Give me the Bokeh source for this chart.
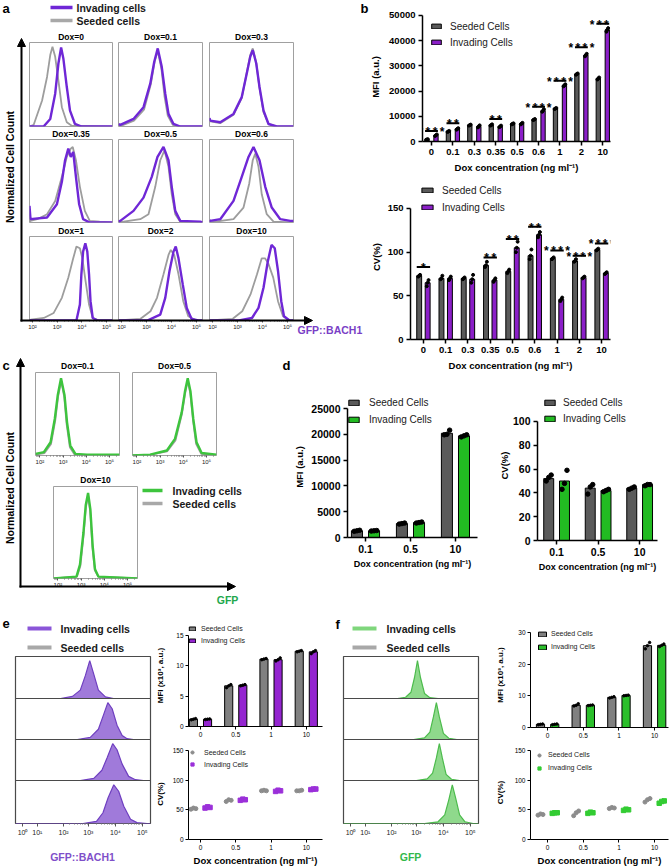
import math
from bokeh.plotting import figure
from bokeh.models import Range1d, FixedTicker, GridBox, Arrow, NormalHead
from bokeh.core.properties import value
from bokeh.embed import file_html
from bokeh.resources import INLINE

# ---------------- data ----------------
b_cats = ["0", "0.1", "0.3", "0.35", "0.5", "0.6", "1", "2", "10"]
b_mfi_seeded = [800, 4000, 6500, 6500, 7000, 8700, 13100, 26800, 25000]
b_mfi_invading = [2500, 5000, 6000, 6000, 7100, 12300, 22300, 34300, 44300]
b_mfi_seeded_reps = [[700, 800, 900], [3800, 4000, 4200], [6300, 6500, 6700], [6300, 6500, 6800],
                     [6800, 7000, 7200], [8500, 8700, 8900], [12900, 13100, 13300], [26500, 26800, 27000],
                     [24600, 25000, 25400]]
b_mfi_invading_reps = [[2200, 2500, 2800], [4700, 5000, 5300], [5600, 6000, 6400], [5700, 6000, 6300],
                       [6800, 7100, 7400], [11800, 12300, 12800], [21900, 22300, 22700], [33800, 34300, 34800],
                       [43600, 44300, 45000]]
b_mfi_sig = ["****", "**", "", "**", "", "****", "****", "****", "****"]
b_mfi_sig_y = [4200, 7200, 0, 8900, 0, 13800, 24100, 37400, 46700]

b_cv_seeded = [73, 70, 70, 85, 78, 96, 93, 90, 103]
b_cv_invading = [65, 70, 69, 68, 105, 120, 46, 71, 76]
b_cv_seeded_reps = [[72, 73, 74], [69, 70, 73], [69, 70, 71], [83, 85, 89], [76, 78, 80], [92, 96, 103],
                    [92, 93, 94], [89, 90, 92], [102, 103, 104]]
b_cv_invading_reps = [[61, 65, 68], [68, 70, 72], [65, 69, 74], [66, 68, 70], [100, 105, 112], [117, 120, 123],
                      [44, 46, 48], [70, 71, 72], [75, 76, 77]]
b_cv_sig = ["*", "", "", "**", "**", "**", "****", "****", "****"]
b_cv_sig_y = [83, 0, 0, 94, 115, 129, 102, 96, 110]

d_cats = ["0.1", "0.5", "10"]
d_mfi_seeded = [1300, 2700, 20200]
d_mfi_invading = [1300, 2900, 19700]
d_mfi_seeded_reps = [[1200, 1300, 1400], [2600, 2700, 2800], [19900, 20000, 20800]]
d_mfi_invading_reps = [[1250, 1300, 1350], [2800, 2900, 3000], [19500, 19700, 19900]]
d_cv_seeded = [52, 44, 44]
d_cv_invading = [50, 42, 47]
d_cv_seeded_reps = [[50, 53, 55], [39, 45, 47], [43, 44, 45]]
d_cv_invading_reps = [[43, 48, 59], [41, 42, 43], [46, 47, 47]]

ef_cats = ["0", "0.5", "1", "10"]
e_mfi_seeded = [1.2, 6.7, 11.1, 12.4]
e_mfi_invading = [1.2, 6.8, 11.0, 12.3]
e_mfi_seeded_reps = [[1.1, 1.2, 1.3], [6.4, 6.7, 6.9], [11.0, 11.1, 11.2], [12.3, 12.4, 12.5]]
e_mfi_invading_reps = [[1.15, 1.2, 1.25], [6.7, 6.8, 6.9], [10.8, 11.0, 11.3], [12.0, 12.3, 12.5]]
e_cv_seeded_reps = [[51, 53, 52], [64, 67, 66], [82, 83, 82], [82, 82, 83]]
e_cv_invading_reps = [[53, 55, 54], [66, 68, 67], [81, 83, 82], [84, 85, 85]]

f_mfi_seeded = [1.0, 7.0, 9.5, 25.8]
f_mfi_invading = [1.0, 7.0, 10.1, 25.9]
f_mfi_seeded_reps = [[0.9, 1.0, 1.1], [6.8, 7.0, 7.5], [9.3, 9.5, 9.7], [24.8, 25.8, 26.8]]
f_mfi_invading_reps = [[0.9, 1.0, 1.1], [6.9, 7.0, 7.1], [10.0, 10.1, 10.2], [25.5, 25.9, 26.3]]
f_cv_seeded_reps = [[41, 43, 42], [40, 45, 48], [52, 54, 53], [63, 67, 69]]
f_cv_invading_reps = [[44, 45, 45], [44, 46, 45], [49, 51, 50], [61, 64, 65]]

# panel a histograms (x = log10 fluorescence, y = normalized count)
a_titles = ["Dox=0", "Dox=0.1", "Dox=0.3", "Dox=0.35", "Dox=0.5", "Dox=0.6", "Dox=1", "Dox=2", "Dox=10"]
a_seeded_x = [
    [1.88, 2.05, 2.39, 2.59, 2.72, 2.81, 2.92, 3.05, 3.19, 3.39, 3.59, 5.24],
    [1.88, 2.0, 2.5, 2.9, 3.17, 3.33, 3.45, 3.6, 3.72, 3.85, 4.05, 4.3, 5.24],
    [1.88, 1.91, 2.31, 2.84, 3.17, 3.37, 3.51, 3.61, 3.75, 3.88, 4.04, 4.24, 4.57, 5.24],
    [1.88, 1.92, 2.19, 2.59, 2.92, 3.19, 3.39, 3.55, 3.63, 3.76, 3.92, 4.12, 4.32, 4.72, 5.24],
    [1.88, 2.75, 3.08, 3.35, 3.55, 3.72, 3.88, 4.01, 4.15, 4.35, 5.24],
    [1.88, 2.84, 3.24, 3.47, 3.61, 3.71, 3.84, 3.97, 4.17, 4.44, 5.24],
    [1.88, 1.93, 2.46, 2.86, 3.19, 3.45, 3.65, 3.78, 3.92, 4.02, 4.15, 4.29, 4.44, 4.71, 5.24],
    [1.88, 2.76, 3.16, 3.42, 3.68, 3.88, 3.97, 4.11, 4.28, 4.47, 4.67, 5.0, 5.24],
    [1.88, 2.81, 3.19, 3.52, 3.78, 3.97, 4.10, 4.23, 4.43, 4.62, 4.82, 5.08, 5.24],
]
a_seeded_y = [
    [0.0, 0.02, 0.31, 0.59, 0.85, 0.95, 0.83, 0.55, 0.23, 0.05, 0.01, 0.0],
    [0.02, 0.01, 0.07, 0.2, 0.5, 0.78, 0.9, 0.68, 0.36, 0.13, 0.02, 0.0, 0.0],
    [0.08, 0.06, 0.04, 0.14, 0.34, 0.64, 0.85, 0.93, 0.76, 0.46, 0.17, 0.03, 0.0, 0.0],
    [0.0, 0.02, 0.04, 0.10, 0.26, 0.55, 0.79, 0.89, 0.91, 0.75, 0.43, 0.14, 0.02, 0.01, 0.0],
    [0.0, 0.04, 0.10, 0.43, 0.75, 0.87, 0.67, 0.34, 0.10, 0.01, 0.0],
    [0.0, 0.04, 0.18, 0.47, 0.75, 0.83, 0.67, 0.34, 0.10, 0.01, 0.0],
    [0.0, 0.01, 0.03, 0.09, 0.27, 0.51, 0.74, 0.88, 0.86, 0.74, 0.47, 0.19, 0.03, 0.0, 0.0],
    [0.0, 0.02, 0.11, 0.27, 0.55, 0.78, 0.84, 0.78, 0.55, 0.23, 0.05, 0.0, 0.0],
    [0.0, 0.02, 0.11, 0.31, 0.55, 0.74, 0.74, 0.68, 0.51, 0.23, 0.05, 0.0, 0.0],
]
a_invading_x = [
    [1.88, 2.45, 2.72, 2.92, 3.05, 3.16, 3.25, 3.39, 3.52, 3.72, 3.99, 5.24],
    [1.88, 1.95, 2.48, 2.88, 3.15, 3.31, 3.45, 3.61, 3.75, 3.88, 4.08, 4.35, 5.24],
    [1.88, 1.91, 2.31, 2.84, 3.17, 3.37, 3.51, 3.61, 3.75, 3.88, 4.04, 4.24, 4.57, 5.24],
    [1.88, 1.92, 2.59, 2.99, 3.19, 3.32, 3.45, 3.55, 3.65, 3.76, 3.89, 4.05, 4.32, 5.24],
    [1.88, 1.95, 2.48, 2.88, 3.21, 3.44, 3.68, 3.88, 4.01, 4.15, 4.35, 5.15, 5.24],
    [1.88, 1.91, 2.31, 2.84, 3.17, 3.44, 3.64, 3.88, 4.11, 4.37, 4.71, 5.11, 5.24],
    [1.88, 3.78, 3.92, 3.98, 4.05, 4.14, 4.22, 4.29, 4.35, 4.44, 4.64, 5.24],
    [1.88, 3.03, 3.55, 3.75, 3.92, 4.08, 4.17, 4.28, 4.45, 4.61, 4.8, 5.07, 5.24],
    [1.88, 3.06, 3.58, 3.84, 4.04, 4.21, 4.36, 4.49, 4.62, 4.75, 4.86, 5.08, 5.24],
]
a_invading_y = [
    [0.0, 0.0, 0.09, 0.39, 0.75, 0.94, 0.81, 0.47, 0.19, 0.03, 0.0, 0.0],
    [0.03, 0.02, 0.09, 0.23, 0.51, 0.77, 0.93, 0.71, 0.39, 0.15, 0.03, 0.0, 0.0],
    [0.1, 0.07, 0.05, 0.15, 0.35, 0.63, 0.83, 0.91, 0.75, 0.47, 0.19, 0.03, 0.0, 0.0],
    [0.2, 0.04, 0.06, 0.22, 0.49, 0.75, 0.89, 0.79, 0.85, 0.55, 0.22, 0.04, 0.0, 0.0],
    [0.01, 0.02, 0.14, 0.30, 0.55, 0.79, 0.91, 0.75, 0.43, 0.14, 0.02, 0.01, 0.0],
    [0.03, 0.02, 0.04, 0.26, 0.55, 0.79, 0.91, 0.75, 0.43, 0.18, 0.04, 0.02, 0.02],
    [0.0, 0.0, 0.19, 0.55, 0.82, 0.92, 0.82, 0.55, 0.23, 0.03, 0.0, 0.0],
    [0.0, 0.0, 0.07, 0.27, 0.59, 0.82, 0.88, 0.74, 0.43, 0.15, 0.02, 0.0, 0.0],
    [0.0, 0.0, 0.03, 0.15, 0.39, 0.70, 0.90, 0.86, 0.59, 0.23, 0.05, 0.0, 0.0],
]

# panel c histograms
c_titles = ["Dox=0.1", "Dox=0.5", "Dox=10"]
c_seeded_x = [
    [1.81, 2.2, 2.48, 2.66, 2.79, 2.92, 3.05, 3.15, 3.29, 3.5, 5.43],
    [1.79, 2.6, 3.3, 3.66, 3.94, 4.08, 4.19, 4.3, 4.42, 4.55, 4.77, 5.43],
    [1.81, 2.82, 2.97, 3.11, 3.21, 3.3, 3.39, 3.49, 3.59, 3.74, 5.43],
]
c_seeded_y = [
    [0.01, 0.03, 0.14, 0.42, 0.72, 0.9, 0.7, 0.38, 0.1, 0.01, 0.0],
    [0.0, 0.01, 0.05, 0.18, 0.5, 0.75, 0.9, 0.75, 0.42, 0.14, 0.02, 0.0],
    [0.0, 0.02, 0.14, 0.48, 0.78, 0.9, 0.73, 0.33, 0.09, 0.02, 0.0],
]
c_invading_x = [
    [1.81, 2.17, 2.46, 2.64, 2.77, 2.91, 3.06, 3.17, 3.31, 3.53, 4.03, 5.43],
    [1.79, 2.57, 3.29, 3.64, 3.93, 4.07, 4.19, 4.31, 4.43, 4.57, 4.79, 5.43],
    [1.81, 2.8, 2.95, 3.1, 3.2, 3.3, 3.4, 3.5, 3.6, 3.75, 5.43],
]
c_invading_y = [
    [0.02, 0.04, 0.16, 0.44, 0.73, 0.93, 0.73, 0.40, 0.12, 0.02, 0.01, 0.01],
    [0.0, 0.01, 0.06, 0.20, 0.52, 0.77, 0.93, 0.77, 0.44, 0.16, 0.03, 0.01],
    [0.0, 0.02, 0.15, 0.5, 0.8, 0.93, 0.75, 0.35, 0.1, 0.02, 0.0],
]

# panels e / f stacked histograms (invading cells, Dox = 0, 0.5, 1, 10)
e_x = [
    [0.3, 1.97, 2.41, 2.7, 2.89, 3.05, 3.19, 3.37, 3.63, 3.93, 5.3],
    [0.3, 2.59, 3.07, 3.37, 3.56, 3.72, 3.88, 4.06, 4.25, 4.43, 4.67, 5.3],
    [0.3, 2.7, 3.2, 3.5, 3.69, 3.9, 4.06, 4.25, 4.49, 4.74, 5.04, 5.3],
    [0.3, 2.8, 3.3, 3.54, 3.73, 3.94, 4.12, 4.31, 4.56, 4.8, 5.17, 5.3],
]
e_y = [
    [0, 0, 0.05, 0.2, 0.55, 0.9, 0.6, 0.2, 0.04, 0, 0],
    [0, 0, 0.05, 0.25, 0.6, 0.9, 0.75, 0.35, 0.1, 0.02, 0, 0],
    [0, 0, 0.05, 0.25, 0.55, 0.9, 0.75, 0.4, 0.1, 0.02, 0, 0],
    [0, 0, 0.05, 0.25, 0.6, 0.9, 0.75, 0.4, 0.1, 0.02, 0, 0],
]
f_x = [
    [0.3, 2.3, 2.6, 2.8, 2.93, 3.04, 3.15, 3.3, 3.5, 3.8, 5.3],
    [0.3, 2.9, 3.3, 3.5, 3.63, 3.74, 3.85, 4.0, 4.2, 4.5, 5.3],
    [0.3, 3.0, 3.4, 3.6, 3.74, 3.85, 3.96, 4.1, 4.3, 4.6, 5.3],
    [0.3, 3.3, 3.8, 4.05, 4.2, 4.33, 4.45, 4.6, 4.8, 5.1, 5.3],
]
f_y = [
    [0, 0, 0.03, 0.15, 0.5, 0.9, 0.5, 0.12, 0.02, 0, 0],
    [0, 0, 0.04, 0.18, 0.55, 0.9, 0.55, 0.15, 0.03, 0, 0],
    [0, 0, 0.04, 0.18, 0.55, 0.9, 0.55, 0.15, 0.03, 0, 0],
    [0, 0, 0.04, 0.2, 0.55, 0.9, 0.6, 0.2, 0.04, 0, 0],
]

# ---------------- style ----------------
FONT = "Liberation Sans"
GREY_BAR = "#5a5a5a"
PURPLE_BAR = "#8b1fc8"
GREEN_BAR = "#22bb22"
EF_GREY_BAR = "#808080"
E_PURPLE_BAR = "#9425d0"
F_GREEN_BAR = "#2bbf2b"
A_PURPLE = "#6f27d6"
A_GREY = "#9d9d9d"
C_GREEN = "#3dc43d"
E_FILL, E_LINE = "#a07ada", "#6f3fc0"
F_FILL, F_LINE = "#8fd98c", "#4cbb4c"

W, H = 671, 868
figs = []


def mkfig(frame, x_range, y_range, xaxis=True, yaxis=True):
    """Every figure covers the whole page; its frame is placed by its borders."""
    fx0, fy0, fx1, fy1 = frame
    p = figure(width=W, height=H, x_range=x_range, y_range=y_range, title=None,
               x_axis_type="linear" if xaxis else None, y_axis_type="linear" if yaxis else None,
               output_backend="svg", toolbar_location=None,
               min_border_left=fx0, min_border_right=W - fx1,
               min_border_top=fy0, min_border_bottom=H - fy1)
    p.frame_align = False
    p.background_fill_color = None
    p.border_fill_color = None
    p.outline_line_color = None
    p.grid.visible = False
    figs.append(p)
    return p


def style_axis(ax, tsize, tbold, lsize, lw, tick_out, lstand, tstand):
    ax.axis_line_width = lw
    ax.axis_line_color = "black"
    ax.major_tick_line_width = lw
    ax.major_tick_line_color = "black"
    ax.major_tick_out = tick_out
    ax.major_tick_in = 0
    ax.minor_tick_line_color = None
    ax.major_label_text_font = FONT
    ax.major_label_text_font_size = f"{tsize}px"
    ax.major_label_text_font_style = "bold" if tbold else "normal"
    ax.major_label_text_color = "black"
    ax.major_label_standoff = tstand
    ax.axis_label_text_font = FONT
    ax.axis_label_text_font_size = f"{lsize}px"
    ax.axis_label_text_font_style = "bold"
    ax.axis_label_text_color = "black"
    ax.axis_label_standoff = lstand


def style_legend(p, m, pd, sp, gw, gh, lh, ls, fsize):
    lg = p.legend[0]
    lg.location = "top_left"
    lg.margin = m
    lg.padding = pd
    lg.spacing = sp
    lg.glyph_width = gw
    lg.glyph_height = gh
    lg.label_height = lh
    lg.label_standoff = ls
    lg.label_text_font = FONT
    lg.label_text_font_size = f"{fsize}px"
    lg.label_text_color = "#1a1a1a"
    lg.label_text_baseline = "middle"
    lg.border_line_color = None
    lg.background_fill_alpha = 0


def cat_axes(p, cats, yticks, ylabel, xlabel, cfg):
    p.xaxis.ticker = FixedTicker(ticks=list(range(len(cats))))
    p.xaxis.major_label_overrides = {i: c for i, c in enumerate(cats)}
    p.yaxis.ticker = FixedTicker(ticks=yticks)
    p.yaxis.bounds = (0, yticks[-1])
    p.yaxis.axis_label = ylabel
    if xlabel:
        p.xaxis.axis_label = xlabel
    style_axis(p.xaxis[0], cfg["tsize"], cfg["tbold"], cfg["xl"], cfg["lw"], cfg["tout"], cfg["xls"], cfg["tst"])
    style_axis(p.yaxis[0], cfg["tsize"], cfg["tbold"], cfg["yl"], cfg["lw"], cfg["tout"], cfg["yls"], cfg["tst"])


def flat_pos(reps, base, jit):
    xs, ys = [], []
    for i, r in enumerate(reps):
        for j, v in enumerate(r):
            xs.append(i + base + jit[j])
            ys.append(v)
    return xs, ys


def bar_chart(frame, xr, ymax, yticks, cats, seeded, invading, s_reps, i_reps,
              s_color, i_color, off, bw, ylabel, xlabel, cfg, leg, dot=3.0, jit=(-0.05, 0, 0.05)):
    p = mkfig(frame, Range1d(*xr), Range1d(0, ymax))
    n = len(cats)
    p.vbar(x=[i - off for i in range(n)], top=seeded, width=bw, fill_color=s_color,
           line_color="black", line_width=1, legend_label="Seeded Cells")
    p.vbar(x=[i + off for i in range(n)], top=invading, width=bw, fill_color=i_color,
           line_color="black", line_width=1, legend_label="Invading Cells")
    for reps, base in ((s_reps, -off), (i_reps, off)):
        xs, ys = flat_pos(reps, base, jit)
        p.scatter(xs, ys, size=dot, color="black")
    cat_axes(p, cats, yticks, ylabel, xlabel, cfg)
    style_legend(p, *leg)
    return p


def add_sig(p, sig, sig_y, half=0.3):
    x0, x1, ys, tx, tt = [], [], [], [], []
    for i, (s, y) in enumerate(zip(sig, sig_y)):
        if s:
            x0.append(i - half); x1.append(i + half); ys.append(y); tx.append(i)
            tt.append("\u2009".join(s))
    p.segment(x0=x0, y0=ys, x1=x1, y1=ys, line_color="black", line_width=2)
    p.text(x=tx, y=ys, text=tt, text_align="center", text_baseline="alphabetic", y_offset=1,
           text_font=value(FONT), text_font_size="12px", text_font_style="bold",
           text_color="black")


def cv_scatter(frame, xr, ymax, cats, s_reps, i_reps, i_color, off, cfg, leg):
    p = mkfig(frame, Range1d(*xr), Range1d(0, ymax))
    jit = (-0.07, 0, 0.07)
    xs, ys = flat_pos(s_reps, -off, jit)
    p.scatter(xs, ys, marker="circle", size=4, color="#8c8c8c", legend_label="Seeded Cells")
    xs, ys = flat_pos(i_reps, off, jit)
    p.scatter(xs, ys, marker="square", size=4.5, color=i_color, legend_label="Invading Cells")
    cat_axes(p, cats, [0, 50, 100, 150], "CV(%)", "Dox concentration (ng ml\u207b\u00b9)", cfg)
    style_legend(p, *leg)
    return p


SUP = ["\u2070", "\u00b9", "\u00b2", "\u00b3", "\u2074", "\u2075"]


def hist_fig(frame, xr, axis=False, ticks=None, tick_labels=None, minor=None, outline="#a0a0a0", olw=1.0,
             tsize=6):
    p = mkfig(frame, Range1d(*xr), Range1d(0, 1.0), xaxis=axis, yaxis=False)
    p.outline_line_color = outline
    p.outline_line_width = olw
    if axis:
        ax = p.xaxis[0]
        ax.ticker = FixedTicker(ticks=ticks, minor_ticks=minor or [])
        ax.major_label_overrides = {t: l for t, l in zip(ticks, tick_labels)}
        ax.axis_line_color = None
        ax.major_tick_out = 2
        ax.major_tick_in = 0
        ax.minor_tick_out = 1
        ax.minor_tick_in = 0
        ax.major_tick_line_color = "#555555"
        ax.minor_tick_line_color = "#777777"
        ax.major_label_standoff = 1
        ax.major_label_text_font = FONT
        ax.major_label_text_font_size = f"{tsize}px"
        ax.major_label_text_color = "#222222"
    return p


# ---------------- panel b ----------------
cfg_b = dict(tsize=9.5, tbold=True, xl=9.5, yl=9.5, lw=1.5, tout=4, tst=3, xls=4, yls=5)
pb1 = bar_chart((422, 12, 610, 141), (-0.42, 8.36), 51190,
                [0, 10000, 20000, 30000, 40000, 50000], b_cats, b_mfi_seeded, b_mfi_invading,
                b_mfi_seeded_reps, b_mfi_invading_reps, GREY_BAR, PURPLE_BAR, 0.21, 0.2,
                "MFI (a.u.)", "Dox concentration (ng ml\u207b\u00b9)", cfg_b,
                (8, 4, 4, 12, 6, 12, 8, 10), dot=3.0, jit=(-0.04, 0, 0.04))
add_sig(pb1, b_mfi_sig, b_mfi_sig_y)

cfg_b2 = dict(cfg_b, yls=3)
pb2 = bar_chart((410, 174, 610, 339), (-0.58, 8.4), 188.9,
                [0, 50, 100, 150], b_cats, b_cv_seeded, b_cv_invading,
                b_cv_seeded_reps, b_cv_invading_reps, GREY_BAR, PURPLE_BAR, 0.19, 0.22,
                "CV(%)", "Dox concentration (ng ml\u207b\u00b9)", cfg_b2,
                (10, 4, 5, 14, 6, 12, 8, 10), dot=3.0, jit=(-0.04, 0, 0.04))
add_sig(pb2, b_cv_sig, b_cv_sig_y)

# ---------------- panel d ----------------
cfg_d = dict(tsize=10.5, tbold=True, xl=9, yl=9.5, lw=1.5, tout=4, tst=3, xls=3, yls=3)
pd1 = bar_chart((347, 396, 477, 537), (-0.4, 2.49), 27326,
                [0, 5000, 10000, 15000, 20000, 25000], d_cats, d_mfi_seeded, d_mfi_invading,
                d_mfi_seeded_reps, d_mfi_invading_reps, GREY_BAR, GREEN_BAR, 0.19, 0.245,
                "MFI (a.u.)", "Dox concentration (ng ml\u207b\u00b9)", cfg_d,
                (0, 3, 5, 13, 7, 12, 9, 10), dot=4.5, jit=(-0.06, 0, 0.06))
cfg_d2 = dict(cfg_d, yls=0)
pd2 = bar_chart((537, 390, 657, 540), (-0.46, 2.43), 126.05,
                [0, 20, 40, 60, 80, 100], d_cats, d_cv_seeded, d_cv_invading,
                d_cv_seeded_reps, d_cv_invading_reps, GREY_BAR, GREEN_BAR, 0.19, 0.24,
                "CV(%)", "Dox concentration (ng ml\u207b\u00b9)", cfg_d2,
                (6, 4, 4, 13, 7, 12, 7, 10), dot=4.5, jit=(-0.06, 0, 0.06))

# ---------------- panels e / f (bars + CV) ----------------
cfg_e = dict(tsize=6.5, tbold=False, xl=9.5, yl=8, lw=1.0, tout=3, tst=2, xls=2, yls=8)
pe1 = bar_chart((188, 624, 322, 726), (-0.34, 3.46), 16.8,
                [0, 5, 10, 15], ef_cats, e_mfi_seeded, e_mfi_invading,
                e_mfi_seeded_reps, e_mfi_invading_reps, EF_GREY_BAR, E_PURPLE_BAR, 0.2, 0.23,
                "MFI (x10\u00b3, a.u.)", None, cfg_e,
                (0, 2, 4, 8, 5, 8, 5, 7), dot=2.5, jit=(-0.06, 0, 0.06))
cfg_ecv = dict(cfg_e, yls=5)
pe2 = cv_scatter((188, 748, 322, 842), (-0.34, 3.46), 153.3,
                 ef_cats, e_cv_seeded_reps, e_cv_invading_reps, "#9b30d9", 0.2, cfg_ecv,
                 (0, 3, 4, 8, 8, 8, 8, 7))

cfg_f = dict(cfg_e, yls=10)
pf1 = bar_chart((530, 622, 668, 727), (-0.48, 3.39), 33.1,
                [0, 10, 20, 30], ef_cats, f_mfi_seeded, f_mfi_invading,
                f_mfi_seeded_reps, f_mfi_invading_reps, EF_GREY_BAR, F_GREEN_BAR, 0.2, 0.23,
                "MFI (x10\u00b3, a.u.)", None, cfg_f,
                (7, 4, 4, 10, 6, 9, 4, 7), dot=2.5, jit=(-0.06, 0, 0.06))
cfg_fcv = dict(cfg_e, yls=7)
pf2 = cv_scatter((530, 745, 668, 842), (-0.48, 3.39), 158.2,
                 ef_cats, f_cv_seeded_reps, f_cv_invading_reps, "#33cc33", 0.2, cfg_fcv,
                 (5, 4, 4, 8, 8, 9, 5, 7))

# ---------------- panel a histograms ----------------
a_cols = [(29, 112), (118, 202), (209, 293)]
a_rows = [(42, 126), (139, 222), (236, 320)]
a_ticks = [2, 3, 4, 5]
a_minor = [d + math.log10(k) for d in range(1, 6) for k in range(2, 10) if 1.88 < d + math.log10(k) < 5.24]
for k in range(9):
    r, c = divmod(k, 3)
    frame = (a_cols[c][0], a_rows[r][0], a_cols[c][1], a_rows[r][1])
    p = hist_fig(frame, (1.88, 5.24), axis=(r == 2), ticks=a_ticks,
                 tick_labels=["10" + SUP[t] for t in a_ticks], minor=a_minor)
    p.line(a_seeded_x[k], a_seeded_y[k], line_color=A_GREY, line_width=1.8)
    p.line(a_invading_x[k], a_invading_y[k], line_color=A_PURPLE, line_width=2.4)

# ---------------- panel c histograms ----------------
c_frames = [(35, 372, 119, 455), (132, 372, 216, 455), (53, 486, 137, 578)]
c_minor = [d + math.log10(k) for d in range(1, 6) for k in range(2, 10) if 1.81 < d + math.log10(k) < 5.43]
for k in range(3):
    p = hist_fig(c_frames[k], (1.81, 5.43), axis=True, ticks=a_ticks,
                 tick_labels=["10" + SUP[t] for t in a_ticks], minor=c_minor)
    p.line(c_seeded_x[k], c_seeded_y[k], line_color=A_GREY, line_width=1.8)
    p.line(c_invading_x[k], c_invading_y[k], line_color=C_GREEN, line_width=2.4)

# ---------------- panels e / f stacked histograms ----------------
ef_rows = [(656, 698), (698, 739), (739, 780), (780, 823)]
ef_ticks = [0.56, 1.11, 2.08, 3, 4, 5]
ef_minor = [d + math.log10(k) for d in range(2, 5) for k in range(2, 10)]
for xs0, xs1, data_x, data_y, fill, line in ((15, 150, e_x, e_y, E_FILL, E_LINE),
                                              (343, 478, f_x, f_y, F_FILL, F_LINE)):
    for k in range(4):
        frame = (xs0, ef_rows[k][0], xs1, ef_rows[k][1])
        p = hist_fig(frame, (0.3, 5.3), axis=(k == 3), ticks=ef_ticks,
                     tick_labels=["10" + SUP[t] for t in range(6)], minor=ef_minor,
                     outline="#4a4a4a", olw=1.2, tsize=7)
        p.varea(x=data_x[k], y1=0, y2=data_y[k], fill_color=fill, fill_alpha=1.0)
        p.line(data_x[k], data_y[k], line_color=line, line_width=1.2)
        if k == 3:
            p.xaxis[0].major_tick_out = 3
            p.xaxis[0].major_label_standoff = 2

# ---------------- overlay: letters, legends, arrows, labels ----------------
bg = mkfig((0, 0, W, H), Range1d(0, W), Range1d(H, 0), xaxis=False, yaxis=False)


def txt(x, y, s, size, color="black", bold=True, align="left", angle=0.0):
    bg.text(x=[x], y=[y], text=[s], text_font=value(FONT), text_font_size=f"{size}px",
            text_font_style="bold" if bold else "normal", text_color=color,
            text_align=align, text_baseline="middle", angle=angle)


for s, x, y in (("a", 2, 8), ("b", 360, 8), ("c", 2, 365), ("d", 282, 365), ("e", 2, 623), ("f", 335, 624)):
    txt(x, y, s, 13)

# legends of histogram panels
for x0, x1, tx, y1, y2, col, lw in ((50, 72, 76, 7, 20, A_PURPLE, 3.5),
                                     (142, 162, 172, 490, 503, C_GREEN, 3.5),
                                     (27, 51, 60, 628, 647, "#8a55d8", 4),
                                     (352, 376, 386, 628, 647, "#7fd67c", 4)):
    bg.line([x0, x1], [y1, y1], line_color=col, line_width=lw)
    bg.line([x0, x1], [y2, y2], line_color="#a8a8a8", line_width=lw)
    txt(tx, y1, "Invading cells", 10.5, color="#1a1a1a")
    txt(tx, y2, "Seeded cells", 10.5, color="#1a1a1a")

# histogram titles
a_cx = [70.5, 160, 251]
a_ty = [36, 133, 230]
for k, t in enumerate(a_titles):
    r, c = divmod(k, 3)
    txt(a_cx[c], a_ty[r], t, 8.5, align="center")
for t, x, y in zip(c_titles, (77, 174, 95), (365, 365, 479)):
    txt(x, y, t, 8.5, align="center")

# axis arrows
for xs, ys, xe, ye in ((21, 321, 21, 38), (20, 320, 312, 320), (20, 587, 20, 358), (19, 586, 235, 586)):
    bg.add_layout(Arrow(end=NormalHead(size=8, fill_color="black", line_color="black"),
                        x_start=xs, y_start=ys, x_end=xe, y_end=ye, line_width=2, line_color="black"))

txt(9, 165, "Normalized  Cell Count", 10.5, angle=math.pi / 2, align="center")
txt(9, 486, "Normalized  Cell Count", 10.5, angle=math.pi / 2, align="center")
txt(297, 329, "GFP::BACH1", 10.5, color="#7a3fc6")
txt(227, 599, "GFP", 10.5, color="#22a84c", align="center")
txt(82, 856, "GFP::BACH1", 10.5, color="#7f4fc9", align="center")
txt(410, 856, "GFP", 10.5, color="#33b84a", align="center")

# ---------------- all figures stacked in one grid cell ----------------
grid = GridBox(children=[(p, 0, 0) for p in figs], width=W, height=H)

open("out.html", "w").write(file_html(grid, INLINE))
